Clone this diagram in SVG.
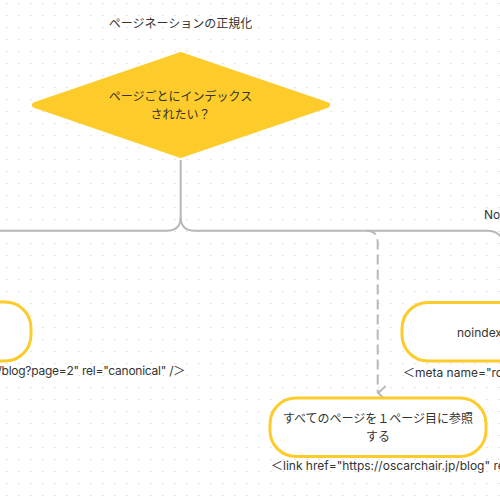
<svg xmlns="http://www.w3.org/2000/svg" width="500" height="500" viewBox="0 0 500 500">
  <defs>
    <pattern id="dots" width="12" height="12" patternUnits="userSpaceOnUse">
      <rect x="6.4" y="2.9" width="1.2" height="1.2" fill="#d4d4d4"/>
    </pattern>
    <marker id="chev" viewBox="0 0 16 10" refX="8" refY="9" markerWidth="16" markerHeight="10" markerUnits="userSpaceOnUse" orient="auto-start-reverse">
      <path d="M1 1 L8 8.5 L15 1" fill="none" stroke="#b8b8b8" stroke-width="2"/>
    </marker>
    <style>
      text { font-family: Inter, "Noto Sans CJK JP", sans-serif; font-size: 12px; fill: #333; }
      .c { text-anchor: middle; }
      .conn { fill: none; stroke: #b8b8b8; stroke-width: 2; }
      .dash { stroke-dasharray: 10 5; }
      .box { fill: #fff; stroke: #fdcb2a; stroke-width: 3; }
    </style>
  </defs>
  <rect width="500" height="500" fill="#fff"/>
  <rect width="500" height="500" fill="url(#dots)"/>

  <text id="title" x="180.5" y="28" class="c">ページネーションの正規化</text>

  <g id="connectors">
    <path class="conn" d="M180.7 160 L180.7 217 Q180.7 230.7 166.7 230.7 L-5 230.7"/>
    <path class="conn" d="M180.7 217 Q180.7 230.7 194.7 230.7 L487 230.7 Q497 230.7 502 238"/>
    <path class="conn dash" d="M367 230.7 Q377.7 231 377.7 243 L377.7 393" marker-end="url(#chev)"/>
    <text x="484" y="219">No</text>
  </g>

  <g id="decision">
    <polygon points="180.7,55 327,105 180.7,155 35,105" fill="#fdcb2a" stroke="#fdcb2a" stroke-width="6" stroke-linejoin="round"/>
    <text x="180.5" y="101" class="c">ページごとにインデックス</text>
    <text x="180.5" y="119" class="c">されたい？</text>
  </g>

  <g id="node-left">
    <rect class="box" x="-80" y="302" width="111" height="59" rx="26"/>
    <text x="185" y="375" text-anchor="end" letter-spacing="-0.25">＜link href="https://oscarchair.jp/blog?page=2" rel="canonical" /＞</text>
  </g>

  <g id="node-right">
    <rect class="box" x="402" y="302.5" width="160" height="58.5" rx="26"/>
    <text x="457" y="337">noindex</text>
    <text x="403" y="377">＜meta name="robots" content="noindex" /＞</text>
  </g>

  <g id="node-bottom">
    <rect class="box" x="270" y="398" width="216" height="58.5" rx="26"/>
    <text x="378" y="423" class="c">すべてのページを１ページ目に参照</text>
    <text x="378" y="441" class="c">する</text>
    <text x="271" y="470">＜link href="https://oscarchair.jp/blog" rel="canonical" /＞</text>
  </g>
</svg>
